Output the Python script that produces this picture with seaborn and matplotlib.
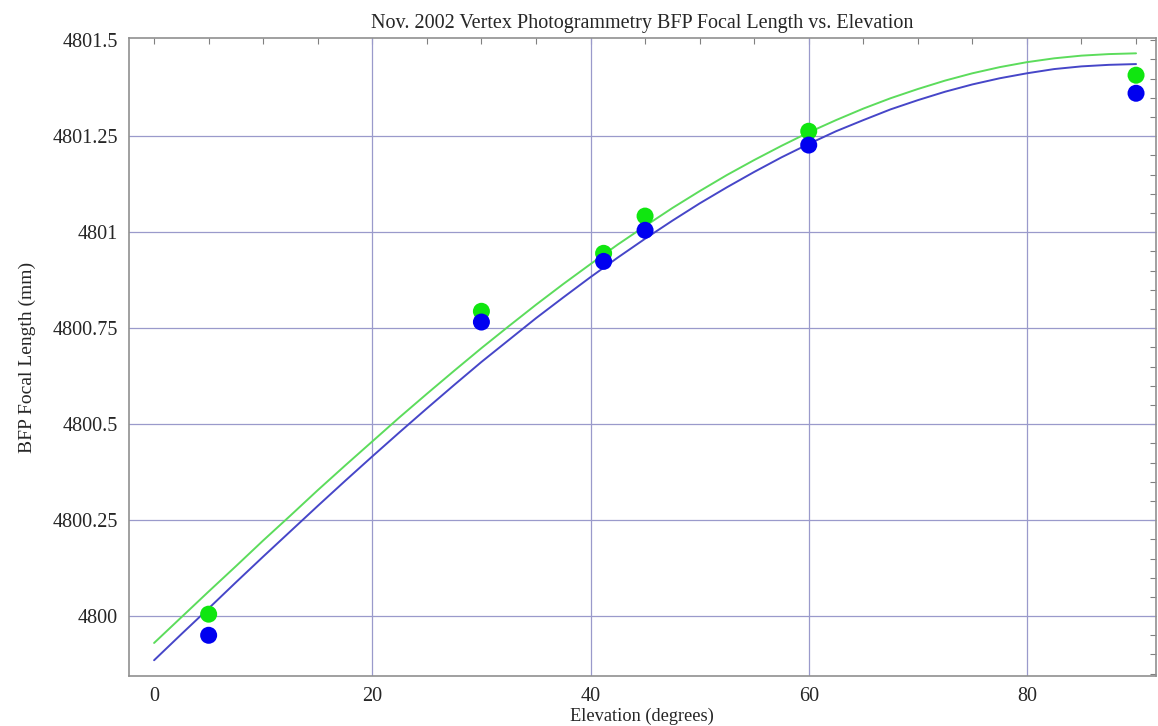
import numpy as np
import pandas as pd
import matplotlib
matplotlib.use("Agg")
import matplotlib.pyplot as plt
from matplotlib.ticker import MultipleLocator, FixedLocator, FuncFormatter
import seaborn as sns

# Measured points (elevation in degrees)
elev_pts = [5, 30, 41.2, 45, 60, 90]
green_pts = [4800.005, 4800.794, 4800.945, 4801.042, 4801.263, 4801.409]
blue_pts = [4799.950, 4800.766, 4800.924, 4801.005, 4801.227, 4801.362]

# Fitted curves
elev_curve = [0, 2.5, 5, 7.5, 10, 12.5, 15, 17.5, 20, 22.5, 25, 27.5, 30, 32.5, 35, 37.5,
              40, 42.5, 45, 47.5, 50, 52.5, 55, 57.5, 60, 62.5, 65, 67.5, 70, 72.5,
              75, 77.5, 80, 82.5, 85, 87.5, 90]
green_curve = [4799.930, 4799.997, 4800.064, 4800.130, 4800.197, 4800.262, 4800.328,
               4800.392, 4800.455, 4800.518, 4800.579, 4800.639, 4800.698, 4800.755,
               4800.811, 4800.865, 4800.917, 4800.968, 4801.016, 4801.063, 4801.107,
               4801.149, 4801.188, 4801.225, 4801.260, 4801.292, 4801.322, 4801.349,
               4801.373, 4801.395, 4801.414, 4801.430, 4801.443, 4801.453, 4801.460,
               4801.464, 4801.466]
blue_curve = [4799.885, 4799.953, 4800.020, 4800.088, 4800.155, 4800.221, 4800.287,
              4800.352, 4800.416, 4800.479, 4800.541, 4800.602, 4800.662, 4800.719,
              4800.776, 4800.830, 4800.883, 4800.934, 4800.983, 4801.030, 4801.075,
              4801.117, 4801.157, 4801.195, 4801.230, 4801.263, 4801.292, 4801.320,
              4801.344, 4801.366, 4801.385, 4801.401, 4801.414, 4801.425, 4801.432,
              4801.436, 4801.438]

y_ticks = [4800, 4800.25, 4800.5, 4800.75, 4801, 4801.25, 4801.5]
x_ticks = [0, 20, 40, 60, 80]

sns.set_style("white")
plt.rcParams['font.family'] = ['Liberation Serif', 'DejaVu Serif']

fig = plt.figure(figsize=(11.58, 7.26), dpi=100)
ax = fig.add_axes([0.1114, 0.0689, 0.8866, 0.8788])

curves = pd.DataFrame({"x": elev_curve + elev_curve,
                       "y": green_curve + blue_curve,
                       "s": ["g"] * len(elev_curve) + ["b"] * len(elev_curve)})
pts = pd.DataFrame({"x": elev_pts + elev_pts,
                    "y": green_pts + blue_pts,
                    "s": ["g"] * len(elev_pts) + ["b"] * len(elev_pts)})

ax.set_xlim(-2.3, 91.8)
ax.set_ylim(4799.844, 4801.506)

for v in x_ticks[1:]:
    ax.axvline(v, color="#9a9acb", lw=0.9, zorder=1)
for v in y_ticks[:-1]:
    ax.axhline(v, color="#9a9acb", lw=0.9, zorder=1)

sns.lineplot(data=curves, x="x", y="y", hue="s",
             palette={"g": "#5cdc5c", "b": "#4646c8"}, lw=1.4,
             legend=False, ax=ax, zorder=3, estimator=None, sort=False)
sns.scatterplot(data=pts, x="x", y="y", hue="s",
                palette={"g": "#10e610", "b": "#0000f0"}, s=150,
                edgecolor="none", legend=False, ax=ax, zorder=4)

ax.xaxis.set_major_locator(FixedLocator(x_ticks))
ax.xaxis.set_minor_locator(MultipleLocator(5))
ax.yaxis.set_major_locator(FixedLocator(y_ticks))
ax.yaxis.set_minor_locator(MultipleLocator(0.05))
ax.yaxis.set_major_formatter(FuncFormatter(lambda v, p: f"{v:g}"))
ax.tick_params(which="both", direction="in", length=4, width=0.8, color="#808080",
               top=True, right=True, labelsize=14.5, pad=8)

for sp in ax.spines.values():
    sp.set_color("#909090")
    sp.set_linewidth(1.2)

ax.set_xlabel("Elevation (degrees)", fontsize=13.2, labelpad=1)
ax.set_ylabel("BFP Focal Length (mm)", fontsize=14, labelpad=12)
ax.set_title("Nov. 2002 Vertex Photogrammetry BFP Focal Length vs. Elevation",
             fontsize=14.5, pad=7)

fig.savefig("out.png", dpi=100)
